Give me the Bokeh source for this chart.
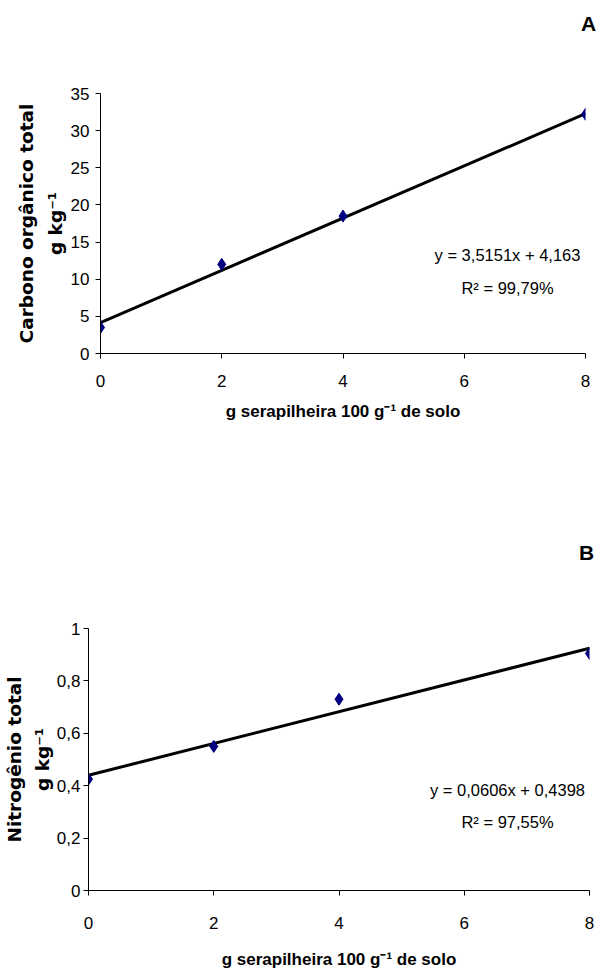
from bokeh.plotting import figure
from bokeh.models import Label, FixedTicker, CustomJSTickFormatter, Range1d, ColumnDataSource
from bokeh.layouts import column, row
from bokeh.embed import file_html
from bokeh.resources import INLINE

# ---------------- data ----------------
dose = [0, 2, 4, 8]                      # g serapilheira 100 g-1 de solo
carbono = [3.5, 12.0, 18.5, 32.2]        # Carbono orgânico total (g kg-1)
nitrogenio = [0.425, 0.55, 0.73, 0.905]  # Nitrogênio total (g kg-1)

x_ticks = [0, 2, 4, 6, 8]
carbono_ticks = [0, 5, 10, 15, 20, 25, 30, 35]
nitrogenio_ticks = [0, 0.2, 0.4, 0.6, 0.8, 1.0]

fit_carbono = [3.5151, 4.163]      # slope, intercept
fit_nitrogenio = [0.0606, 0.4398]

eq_carbono = ["y = 3,5151x + 4,163", "R\u00b2 = 99,79%"]
eq_nitrogenio = ["y = 0,0606x + 0,4398", "R\u00b2 = 97,55%"]

panel_letters = ["A", "B"]
y_titles = ["Carbono org\u00e2nico total\ng kg\u207b\u00b9", "Nitrog\u00eanio total\ng kg\u207b\u00b9"]
x_title = "g serapilheira 100 g\u207b\u00b9 de solo"

SANS = "Liberation Sans"
W = 597
fmt = CustomJSTickFormatter(code="return (Math.round(tick*10)/10).toString().replace('.', ',');")


def letter_fig(letter, h, lx, ly):
    f = figure(width=W, height=h, output_backend="svg", toolbar_location=None,
               x_range=Range1d(0, 1), y_range=Range1d(0, 1),
               x_axis_type=None, y_axis_type=None, min_border=0)
    f.outline_line_color = None
    f.grid.visible = False
    f.add_layout(Label(x=lx, y=ly, x_units="screen", y_units="screen", text=letter,
                       text_font=SANS, text_font_style="bold", text_font_size="21px",
                       text_align="center", text_baseline="middle", text_color="black"))
    return f


def panel(yvals, yticks, fit, eqs, ytitle, g):
    p = figure(width=W, height=g["h"], output_backend="svg", toolbar_location=None,
               x_range=Range1d(0, 8), y_range=Range1d(yticks[0], yticks[-1]),
               min_border_left=g["left"], min_border_right=g["right"],
               min_border_top=g["top"], min_border_bottom=g["bottom"])
    p.outline_line_color = None
    p.grid.visible = False
    p.background_fill_color = "white"
    p.border_fill_color = "white"

    for ax in (p.xaxis[0], p.yaxis[0]):
        ax.axis_line_color = "black"
        ax.major_tick_line_color = "black"
        ax.minor_tick_line_color = None
        ax.major_tick_in = 0
        ax.major_tick_out = 5
        ax.major_label_text_font = SANS
        ax.major_label_text_font_size = "17px"
        ax.major_label_text_color = "black"

    p.xaxis.ticker = FixedTicker(ticks=x_ticks)
    p.yaxis.ticker = FixedTicker(ticks=yticks)
    p.xaxis.formatter = fmt
    p.yaxis.formatter = fmt
    p.xaxis.major_label_standoff = g["xstand"]
    p.yaxis.major_label_standoff = g["ystand"]

    p.xaxis.axis_label = x_title
    p.xaxis.axis_label_text_font = SANS
    p.xaxis.axis_label_text_font_style = "bold"
    p.xaxis.axis_label_text_font_size = "17px"
    p.xaxis.axis_label_text_color = "black"
    p.xaxis.axis_label_standoff = g["xtstand"]

    p.yaxis.axis_label = ytitle
    p.yaxis.axis_label_text_font = "DejaVu Sans"
    p.yaxis.axis_label_text_font_style = "bold"
    p.yaxis.axis_label_text_font_size = "18.5px"
    p.yaxis.axis_label_text_color = "black"
    p.yaxis.axis_label_text_line_height = 1.35
    p.yaxis.axis_label_standoff = g["ytstand"]

    xs = [min(dose), max(dose)]
    ys = [fit[0] * v + fit[1] for v in xs]
    p.line(xs, ys, line_color="black", line_width=3)

    src = ColumnDataSource(dict(x=dose, y=yvals))
    p.scatter("x", "y", source=src, marker="diamond", size=12,
              fill_color="#000080", line_color="#000080")

    for txt, yy in ((eqs[0], g["eqy"]), (eqs[1], g["r2y"])):
        p.add_layout(Label(x=g["eqx"], y=yy, x_units="screen", y_units="screen",
                           text=txt, text_font=SANS, text_font_size="16.5px",
                           text_align="center", text_baseline="middle", text_color="black"))
    return p


geomA = dict(h=413, left=100, right=12, top=48, bottom=105, xstand=16, ystand=6, xtstand=12,
             ytstand=2, eqx=407, eqy=99, r2y=66)
geomB = dict(h=392, left=88, right=8, top=48, bottom=82, xstand=21, ystand=3, xtstand=18,
             ytstand=1, eqx=419, eqy=101, r2y=69)

letA = letter_fig(panel_letters[0], 45, 588, 22)
pA = panel(carbono, carbono_ticks, fit_carbono, eq_carbono, y_titles[0], geomA)
letB = letter_fig(panel_letters[1], 122, 586, 28)
pB = panel(nitrogenio, nitrogenio_ticks, fit_nitrogenio, eq_nitrogenio, y_titles[1], geomB)

layout = column(row(letA), row(pA), row(letB), row(pB))
open("out.html", "w").write(file_html(layout, INLINE))
